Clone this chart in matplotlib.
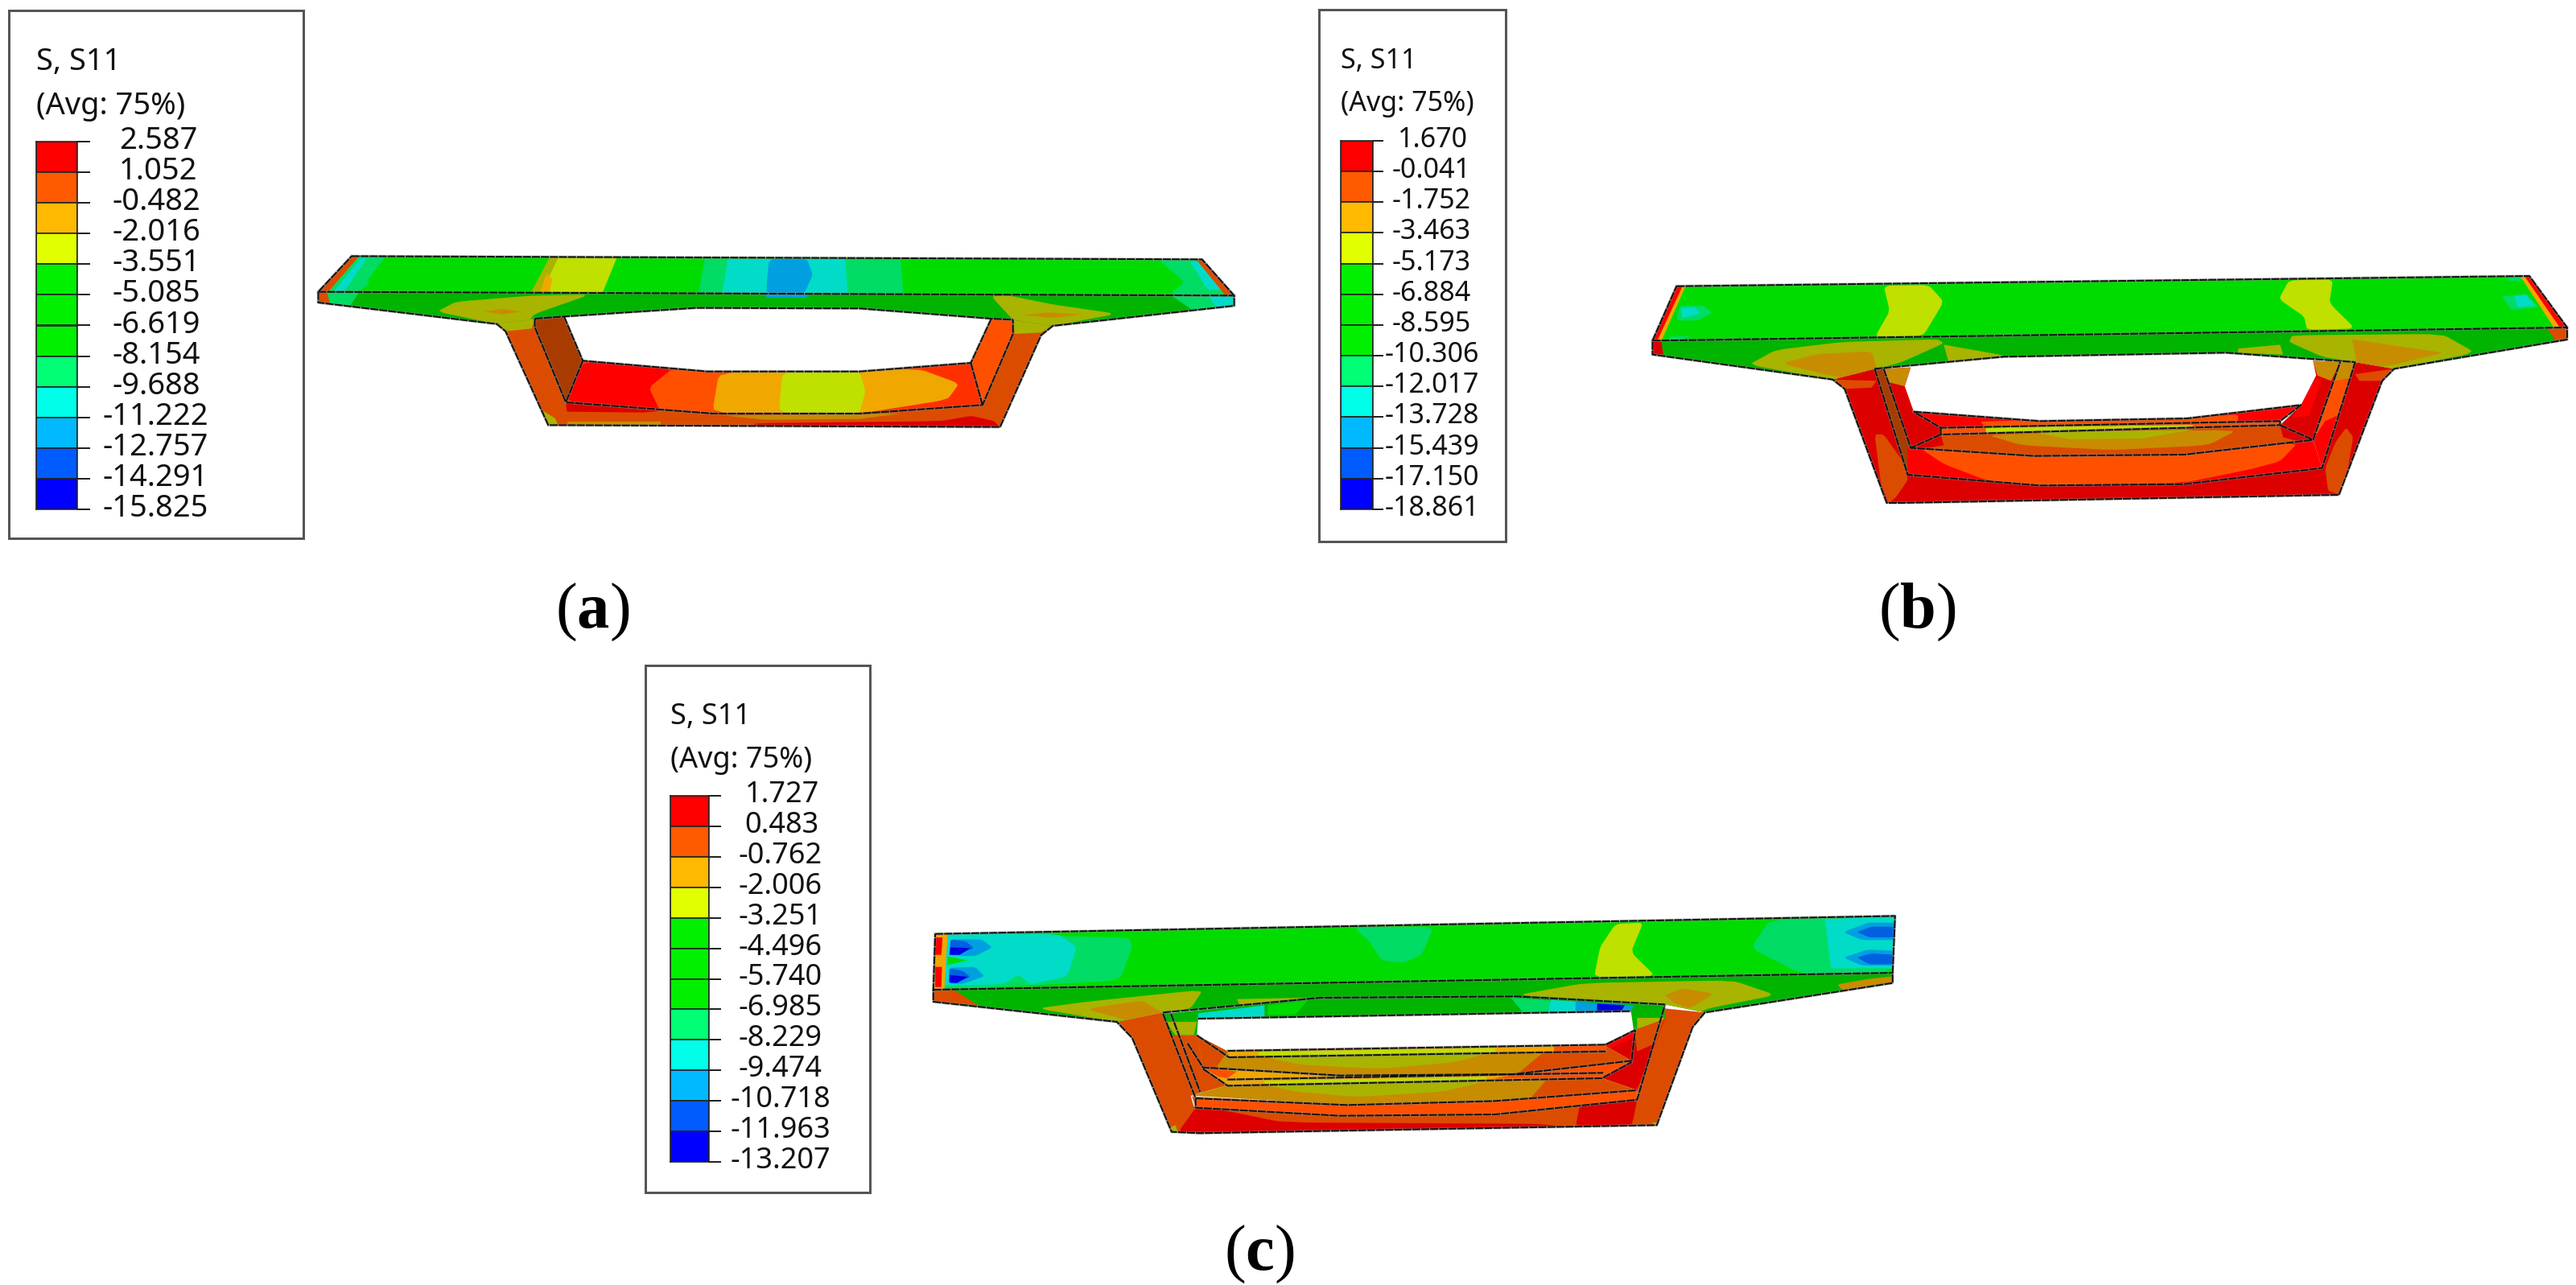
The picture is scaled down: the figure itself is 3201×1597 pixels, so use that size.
import numpy as np
import matplotlib
matplotlib.use("Agg")
import matplotlib.pyplot as plt
from matplotlib.patches import Polygon, Rectangle

W, H = 3201, 1597
PX = 0.72  # 1 pixel in points at dpi 100

plt.rcParams['mathtext.fontset'] = 'custom'
plt.rcParams['mathtext.bf'] = 'Liberation Serif:bold'
plt.rcParams['mathtext.rm'] = 'Liberation Serif'

# legend values
LEVELS_A = ["2.587", "1.052", "-0.482", "-2.016", "-3.551", "-5.085", "-6.619",
            "-8.154", "-9.688", "-11.222", "-12.757", "-14.291", "-15.825"]
LEVELS_B = ["1.670", "-0.041", "-1.752", "-3.463", "-5.173", "-6.884", "-8.595",
            "-10.306", "-12.017", "-13.728", "-15.439", "-17.150", "-18.861"]
LEVELS_C = ["1.727", "0.483", "-0.762", "-2.006", "-3.251", "-4.496", "-5.740",
            "-6.985", "-8.229", "-9.474", "-10.718", "-11.963", "-13.207"]
BAND_COLOURS = ["#FF0000", "#FF5A00", "#FFB900", "#E1FF00", "#00F000", "#00F000",
                "#00F000", "#00FF74", "#00FFE8", "#00B9FF", "#005CFF", "#0000FF"]

# contour colours as they look on the shaded model
G, GD = "#00DC00", "#00B400"
YG, OL, OD = "#C0E000", "#A8B400", "#C88C00"
AMB, OR, ORD = "#F0A800", "#FF5000", "#DC4C00"
RED, REDD, BRN = "#FF0000", "#DC0000", "#A83C00"
TEAL, CY, BL, BL2, BL3 = "#00DC64", "#00DCC8", "#00A0E0", "#0060E0", "#0000E0"

# section (a): each region is (base colour, outline, [(colour, contour patch), ...])
A_REGIONS = [
    (ORD, [(340, 338), (405, 318), (1222, 322), (1290, 345), (1270, 380), (1200, 722), (428, 715), (355, 365)], [
        (OL, [(340, 338), (405, 318), (400, 355), (355, 365)]),
        (OL, [(1222, 322), (1290, 345), (1270, 370), (1225, 375)]),
        (OL, [(418, 660), (440, 690), (445, 716), (428, 716)]),
        (REDD, [(458, 632), (620, 662), (590, 668), (460, 665)]),
        (REDD, [(780, 708), (1100, 700), (1150, 680), (1190, 700), (1200, 725), (780, 722)]),
        (OD, [(730, 680), (1030, 672), (960, 692), (800, 695)]),
        (OD, [(460, 702), (620, 702), (620, 716), (460, 716)]),
    ]),
    (GD, [(35, 218), (1600, 232), (1600, 270), (1290, 345), (1220, 322), (1185, 318), (960, 280),
          (680, 278), (455, 310), (405, 318), (340, 338), (35, 258)], [
        (OL, [(238, 292), (270, 255), (400, 232), (500, 228), (405, 300), (390, 340), (340, 338)]),
        (OD, [(318, 292), (350, 282), (382, 292), (350, 302)]),
        (OL, [(1185, 235), (1215, 232), (1290, 265), (1400, 300), (1290, 345), (1240, 370), (1222, 322)]),
        (OD, [(1240, 305), (1280, 295), (1340, 302), (1290, 315)]),
        (ORD, [(35, 218), (50, 218), (55, 262), (35, 258)]),
        (TEAL, [(50, 218), (105, 220), (90, 268), (55, 262)]),
        (TEAL, [(1490, 228), (1600, 232), (1600, 270), (1530, 288)]),
        (CY, [(1555, 232), (1600, 232), (1600, 270), (1570, 278)]),
        (BL, [(800, 228), (870, 228), (870, 240), (800, 240)]),
    ]),
    (G, [(92, 85), (1545, 97), (1600, 232), (35, 218)], [
        (TEAL, [(100, 85), (150, 88), (120, 170), (122, 190), (100, 220), (50, 218)]),
        (CY, [(108, 92), (118, 92), (80, 215), (62, 215)]),
        (ORD, [(92, 85), (105, 85), (52, 218), (35, 218)]),
        (OL, [(430, 90), (450, 92), (430, 222), (398, 222)]),
        (YG, [(445, 92), (545, 92), (520, 225), (415, 225)]),
        (AMB, [(425, 150), (435, 170), (430, 222), (414, 222)]),
        (TEAL, [(695, 95), (1030, 100), (1035, 226), (685, 226)]),
        (CY, [(735, 95), (935, 95), (940, 228), (725, 226)]),
        (BL, [(805, 95), (870, 95), (880, 155), (865, 226), (800, 226)]),
        (TEAL, [(1470, 97), (1535, 97), (1590, 230), (1490, 228), (1515, 180)]),
        (CY, [(1525, 105), (1540, 105), (1580, 210), (1555, 210)]),
        (ORD, [(1535, 97), (1548, 97), (1600, 232), (1585, 232)]),
    ]),
    (BRN, [(405, 318), (455, 310), (487, 475), (458, 630), (405, 350)], []),
    (OR, [(1185, 318), (1222, 322), (1222, 375), (1170, 640), (1150, 483)], []),
    ("#FF3000", [(487, 475), (700, 515), (960, 515), (1150, 483), (1170, 640), (960, 672), (710, 672), (458, 630)], [
        (RED, [(487, 475), (640, 505), (600, 575), (620, 660), (458, 632)]),
        (OR, [(640, 505), (1060, 500), (1130, 560), (1110, 620), (960, 672), (620, 665), (600, 575)]),
        (AMB, [(720, 515), (1060, 505), (1130, 560), (1110, 620), (960, 672), (708, 672)]),
        (YG, [(828, 515), (960, 515), (970, 590), (960, 672), (822, 672)]),
    ]),
]
A_LINES = [
    [(92, 85), (1545, 97), (1600, 232), (1600, 270), (1290, 345), (1270, 380), (1200, 722), (428, 715), (355, 365),
     (340, 338), (35, 258), (35, 218), (92, 85)],
    [(35, 218), (1600, 232)],
    [(405, 318), (455, 310), (680, 278), (960, 280), (1185, 318), (1222, 322)],
    [(455, 310), (487, 475), (700, 515), (960, 515), (1150, 483), (1185, 318)],
    [(405, 318), (405, 350), (458, 630), (710, 672), (960, 672), (1170, 640), (1222, 375), (1222, 322)],
    [(487, 475), (458, 630)],
    [(1150, 483), (1170, 640)],
]
A_HOLE = [(455, 310), (680, 278), (960, 280), (1185, 318), (1150, 483), (960, 515), (700, 515), (487, 475)]

# section (b)
B_REGIONS = [
    (REDD, [(385, 485), (455, 445), (510, 840), (730, 880), (970, 875), (1200, 815), (1255, 420), (1320, 445),
            (1300, 490), (1228, 915), (500, 945), (475, 945), (405, 520)], [
        (ORD, [(455, 690), (470, 690), (505, 800), (510, 860), (490, 925), (478, 945), (465, 870)]),
        (ORD, [(1240, 665), (1252, 700), (1240, 850), (1228, 912), (1210, 900), (1205, 815), (1222, 720)]),
        (ORD, [(385, 485), (458, 490), (450, 515), (405, 520)]),
        (ORD, [(1255, 465), (1320, 445), (1300, 490), (1262, 490)]),
    ]),
    (GD, [(85, 340), (1608, 291), (1608, 336), (1320, 445), (1255, 420), (1040, 385), (670, 400), (455, 445),
          (385, 485), (85, 392)], [
        (OL, [(245, 430), (290, 375), (400, 345), (560, 335), (570, 350), (500, 420), (460, 445), (430, 515), (405, 520), (385, 485)]),
        (OD, [(300, 425), (360, 390), (450, 380), (458, 440), (470, 480), (430, 490), (380, 470)]),
        (OL, [(1150, 320), (1400, 315), (1455, 385), (1320, 445), (1300, 480), (1255, 470), (1255, 420), (1200, 400), (1145, 345)]),
        (OD, [(1250, 335), (1400, 385), (1320, 430), (1260, 450)]),
        (OL, [(570, 355), (670, 395), (650, 405), (578, 420)]),
        (OL, [(1060, 370), (1130, 355), (1135, 392), (1060, 385)]),
        (REDD, [(85, 345), (100, 345), (103, 392), (85, 392)]),
        (ORD, [(1575, 295), (1608, 291), (1608, 336), (1590, 345)]),
    ]),
    (G, [(125, 137), (1545, 99), (1608, 291), (85, 340)], [
        (YG, [(470, 135), (545, 133), (570, 195), (535, 325), (455, 328), (480, 230)]),
        (YG, [(1145, 115), (1218, 112), (1212, 200), (1255, 295), (1175, 300), (1170, 250), (1128, 185)]),
        (TEAL, [(130, 210), (170, 210), (185, 235), (160, 265), (125, 265)]),
        (CY, [(132, 220), (155, 215), (165, 240), (135, 255)]),
        (TEAL, [(115, 325), (150, 322), (125, 345), (108, 345)]),
        (TEAL, [(1500, 175), (1540, 165), (1560, 215), (1515, 225)]),
        (CY, [(1520, 175), (1540, 170), (1555, 210), (1525, 215)]),
        (TEAL, [(1510, 105), (1535, 102), (1540, 115), (1510, 118)]),
        (AMB, [(120, 137), (140, 137), (100, 340), (82, 340)]),
        (RED, [(125, 137), (135, 137), (93, 340), (85, 340)]),
        (AMB, [(1530, 100), (1548, 99), (1610, 291), (1587, 295)]),
        (RED, [(1537, 100), (1550, 99), (1612, 291), (1597, 295)]),
    ]),
    (BRN, [(455, 445), (470, 445), (515, 740), (510, 840), (500, 790)], []),
    (REDD, [(470, 445), (515, 440), (505, 510), (520, 605), (565, 665), (565, 690), (515, 740)], [
        (OD, [(470, 445), (515, 440), (505, 510), (478, 495)]),
    ]),
    (REDD, [(1185, 415), (1230, 420), (1185, 710), (1130, 655), (1165, 580), (1190, 470)], [
        (OD, [(1185, 415), (1230, 420), (1215, 490), (1192, 470)]),
        (RED, [(1190, 480), (1200, 480), (1178, 620), (1150, 630)]),
    ]),
    (OR, [(1230, 420), (1255, 420), (1200, 815), (1185, 710)], [
        (OD, [(1230, 420), (1255, 420), (1245, 480), (1220, 490)]),
        (RED, [(1205, 640), (1225, 620), (1200, 815), (1185, 710)]),
    ]),
    (RED, [(520, 605), (730, 640), (975, 630), (1165, 580), (1130, 640), (565, 665)], [
        (OR, [(630, 640), (975, 630), (1060, 615), (1060, 650), (640, 665)]),
    ]),
    (OR, [(565, 665), (1130, 640), (1130, 655), (565, 690)], [
        (YG, [(640, 663), (985, 655), (985, 675), (640, 685)]),
    ]),
    (ORD, [(565, 690), (1130, 655), (1185, 710), (970, 765), (720, 770), (510, 740)], [
        (OD, [(640, 690), (1060, 672), (1010, 730), (850, 748), (700, 730)]),
        (OL, [(720, 682), (985, 672), (900, 705), (780, 708)]),
        (REDD, [(510, 740), (565, 690), (570, 730), (540, 742)]),
        (REDD, [(1185, 710), (1130, 655), (1135, 700), (1160, 715)]),
    ]),
    (RED, [(510, 740), (720, 770), (970, 765), (1185, 710), (1200, 815), (970, 875), (730, 880), (510, 840)], [
        (OR, [(530, 740), (720, 770), (970, 765), (1160, 720), (1130, 790), (1080, 820), (970, 870), (730, 880), (640, 860), (570, 800)]),
    ]),
]
B_LINES = [
    [(125, 137), (1545, 99), (1608, 291), (1608, 336), (1320, 445), (1300, 490), (1228, 915), (500, 945), (475, 945),
     (405, 520), (385, 485), (85, 392), (85, 340), (125, 137)],
    [(85, 340), (1608, 291)],
    [(455, 445), (670, 400), (1040, 385), (1255, 420)],
    [(455, 445), (510, 840), (730, 880), (970, 875), (1200, 815), (1255, 420)],
    [(470, 445), (515, 740), (720, 770), (970, 765), (1185, 710), (1230, 420)],
    [(520, 605), (730, 640), (975, 630), (1165, 580), (1130, 640), (565, 665), (520, 605)],
    [(565, 665), (565, 690), (1130, 655), (1130, 640)],
    [(565, 690), (515, 740)],
    [(1130, 655), (1185, 710)],
]
B_HOLE = [(515, 440), (670, 405), (1040, 390), (1185, 415), (1190, 470), (1165, 580), (975, 630), (730, 640), (520, 605), (505, 510)]

# section (c)
C_REGIONS = [
    (ORD, [(350, 540), (425, 505), (482, 520), (480, 590), (530, 650), (530, 775), (470, 815), (475, 855), (712, 890),
           (964, 885), (1195, 830), (1195, 795), (1240, 490), (1305, 505), (1285, 560), (1227, 925), (484, 955),
           (439, 950), (375, 600)], [
        (REDD, [(478, 860), (525, 870), (620, 915), (1030, 920), (1080, 930), (484, 955), (450, 950)]),
        (REDD, [(1102, 850), (1195, 830), (1190, 890), (1186, 925), (1095, 930)]),
        (OL, [(435, 935), (445, 925), (450, 955), (440, 955)]),
        (OL, [(1220, 915), (1232, 915), (1230, 925), (1222, 928)]),
    ]),
    (GD, [(52, 420), (1610, 357), (1610, 395), (1305, 505), (1240, 475), (1000, 445), (680, 450), (425, 505),
          (350, 540), (52, 465)], [
        (OL, [(220, 490), (300, 465), (490, 420), (470, 490), (425, 505), (350, 540)]),
        (OD, [(300, 492), (390, 460), (425, 505), (385, 548), (360, 530)]),
        (ORD, [(52, 420), (85, 420), (125, 478), (52, 465)]),
        (OL, [(1000, 440), (1110, 395), (1350, 385), (1420, 440), (1310, 490), (1280, 520), (1240, 475), (1115, 455)]),
        (OD, [(1240, 440), (1270, 415), (1320, 435), (1280, 490), (1255, 470)]),
        (OL, [(545, 455), (660, 450), (550, 480)]),
        (OD, [(1520, 400), (1570, 380), (1610, 370), (1610, 395), (1530, 425)]),
    ]),
    (G, [(55, 212), (1614, 145), (1610, 357), (52, 420)], [
        (TEAL, [(60, 212), (370, 225), (375, 260), (355, 385), (200, 405), (60, 418)]),
        (CY, [(60, 212), (255, 212), (285, 260), (270, 370), (210, 400), (190, 365), (165, 400), (60, 405)]),
        (BL, [(80, 232), (130, 232), (148, 262), (120, 295), (78, 292)]),
        (BL2, [(80, 232), (105, 240), (118, 265), (95, 285), (78, 290)]),
        (BL3, [(80, 262), (112, 265), (95, 290), (78, 290)]),
        (BL, [(78, 338), (120, 335), (135, 370), (100, 398), (78, 398)]),
        (BL2, [(78, 340), (100, 350), (112, 372), (90, 395), (78, 395)]),
        (BL3, [(78, 365), (108, 372), (90, 395), (78, 392)]),
        (G, [(75, 296), (108, 310), (75, 328)]),
        (AMB, [(52, 212), (75, 212), (70, 420), (50, 420)]),
        (RED, [(55, 225), (67, 225), (65, 290), (55, 290)]),
        (RED, [(55, 335), (66, 335), (65, 410), (55, 410)]),
        (TEAL, [(735, 188), (865, 185), (845, 290), (815, 320), (780, 310), (760, 240)]),
        (YG, [(1160, 175), (1205, 170), (1185, 280), (1225, 370), (1125, 375), (1135, 260)]),
        (TEAL, [(1410, 160), (1614, 145), (1610, 357), (1460, 360), (1380, 265)]),
        (CY, [(1500, 158), (1614, 145), (1610, 340), (1510, 340)]),
        (BL, [(1530, 205), (1570, 170), (1614, 170), (1614, 235), (1560, 235)]),
        (BL2, [(1552, 205), (1575, 185), (1614, 185), (1614, 225), (1572, 225)]),
        (BL, [(1530, 300), (1570, 270), (1614, 275), (1614, 330), (1560, 330)]),
        (BL2, [(1552, 300), (1575, 285), (1614, 290), (1614, 325), (1572, 325)]),
    ]),
    (GD, [(425, 510), (680, 450), (1000, 445), (1240, 478), (1240, 530), (1190, 580), (1185, 500), (482, 528), (480, 590), (440, 590)], [
        (TEAL, [(990, 450), (1055, 460), (1050, 505), (1010, 505)]),
        (CY, [(1055, 458), (1100, 465), (1095, 502), (1050, 505)]),
        (BL, [(1095, 465), (1190, 478), (1185, 500), (1095, 502)]),
        (BL3, [(1130, 472), (1175, 478), (1170, 498), (1130, 498)]),
        (CY, [(482, 508), (590, 478), (590, 520), (482, 528)]),
        (G, [(595, 478), (660, 460), (640, 512), (595, 515)]),
        (OL, [(430, 540), (480, 540), (475, 590), (445, 590)]),
        (OL, [(1195, 525), (1240, 525), (1220, 575), (1195, 575)]),
    ]),
    (ORD, [(480, 590), (530, 650), (530, 775), (470, 815), (465, 620)], []),
    (REDD, [(1140, 625), (1192, 570), (1240, 530), (1195, 795), (1138, 750), (1186, 685)], [
        (RED, [(1140, 625), (1192, 570), (1188, 600), (1145, 645)]),
        (ORD, [(1190, 560), (1240, 525), (1225, 620), (1195, 650)]),
    ]),
    (OD, [(530, 650), (1140, 625), (1186, 685), (994, 735), (712, 740), (490, 710), (480, 590)], [
        (OL, [(590, 672), (960, 650), (900, 690), (780, 715), (650, 700)]),
        (ORD, [(1055, 630), (1140, 625), (1190, 685), (1000, 735)]),
        (ORD, [(480, 590), (530, 650), (510, 715), (490, 710)]),
    ]),
    (AMB, [(530, 648), (1144, 625), (1144, 650), (532, 672)], [
        (YG, [(580, 652), (965, 638), (965, 660), (580, 668)]),
        (OR, [(1060, 628), (1144, 625), (1144, 650), (1060, 650)]),
    ]),
    (AMB, [(490, 710), (712, 740), (994, 735), (1186, 685), (1140, 750), (530, 778)], [
        (OR, [(1000, 735), (1186, 685), (1140, 750), (960, 752)]),
        (YG, [(590, 760), (950, 745), (950, 758), (590, 770)]),
        (OR, [(490, 710), (545, 725), (530, 750), (515, 745)]),
    ]),
    (OD, [(526, 778), (1138, 750), (1195, 795), (964, 835), (724, 850), (472, 815)], [
        (OL, [(590, 775), (950, 762), (880, 800), (740, 820), (640, 800)]),
        (ORD, [(1050, 750), (1138, 750), (1195, 795), (1020, 830)]),
    ]),
    (OR, [(472, 818), (724, 850), (964, 835), (1195, 795), (1195, 830), (964, 885), (712, 890), (478, 860)], []),
]
C_LINES = [
    [(55, 212), (1614, 145), (1610, 357), (1610, 395), (1305, 505), (1285, 560), (1227, 925), (484, 955), (439, 950),
     (375, 600), (350, 540), (52, 465), (52, 420), (55, 212)],
    [(52, 420), (1610, 357)],
    [(425, 505), (680, 450), (1000, 445), (1240, 475)],
    [(482, 528), (1185, 500)],
    [(425, 510), (478, 825), (478, 860), (712, 890), (964, 885), (1195, 830), (1240, 478)],
    [(478, 825), (724, 850), (964, 835), (1195, 795)],
    [(438, 510), (485, 800)],
    [(465, 620), (490, 710), (712, 740), (994, 735), (1186, 685), (1192, 570)],
    [(490, 715), (530, 778), (1138, 750), (1186, 690)],
    [(530, 648), (1144, 625), (1192, 570)],
    [(532, 672), (1144, 650)],
    [(480, 590), (532, 672)],
    [(530, 755), (1140, 730)],
]
C_HOLE = [(482, 528), (1185, 500), (1192, 570), (1144, 625), (530, 648), (480, 590)]

# zoom frames: (x origin, y origin, x scale, y scale)
FRAME_A = (370, 290, 1.375, 3)
FRAME_B = (1990, 310, 1.34, 3)
FRAME_C = (1120, 1090, 1.307, 3)


def to_px(pts, frame):
    pts = np.array(pts, dtype=float)
    return np.column_stack([frame[0] + pts[:, 0] / frame[2], frame[1] + pts[:, 1] / frame[3]])


def rounded(xy, rounds=2, cut=0.1):
    # small corner cut only, a bigger one pulls the bands off the section edges
    if len(xy) < 5:
        return xy
    for _ in range(rounds):
        nxt = np.roll(xy, -1, axis=0)
        xy = np.column_stack([(1 - cut) * xy + cut * nxt, cut * xy + (1 - cut) * nxt]).reshape(-1, 2)
    return xy


def draw_section(ax, regions, hole, lines, frame):
    # underside + web + face go first, then the hole, then what is seen through it
    for i, (base, outline, layers) in enumerate(regions):
        if i == 3:
            ax.add_patch(Polygon(to_px(hole, frame), facecolor="white", edgecolor="none", zorder=2 + i))
        patch = Polygon(to_px(outline, frame), facecolor=base, edgecolor="none", zorder=2 + i)
        ax.add_patch(patch)
        for colour, pts in layers:
            p = Polygon(rounded(to_px(pts, frame)), facecolor=colour, edgecolor="none", zorder=2 + i)
            ax.add_patch(p)
            p.set_clip_path(patch)
    for line in lines:
        xy = to_px(line, frame)
        ax.plot(xy[:, 0], xy[:, 1], color="#8a8a8a", lw=3.5 * PX, alpha=0.5, zorder=30, solid_joinstyle="round")
        ax.plot(xy[:, 0], xy[:, 1], color="#111111", lw=2.0 * PX, zorder=31, ls=(0, (5, 0.6)))


def draw_legend(fig, ax, levels, box, bar, tick_len, title_x, title_ys, right_x, size):
    x0, y0, x1, y1 = box
    ax.add_patch(Rectangle((x0, y0), x1 - x0, y1 - y0, facecolor="white", edgecolor="#555555", lw=3 * PX, zorder=1))
    ax.text(title_x, title_ys[0], "S, S11", fontsize=size, family="Noto Sans", color="#111111", va="center", zorder=40)
    ax.text(title_x, title_ys[1], "(Avg: 75%)", fontsize=size, family="Noto Sans", color="#111111", va="center", zorder=40)

    bx0, by0, bx1, by1 = bar
    cax = fig.add_axes([bx0 / W, 1 - by1 / H, (bx1 - bx0) / W, (by1 - by0) / H])
    n = len(levels) - 1
    cax.barh(np.arange(n) + 0.5, np.ones(n), height=1, color=BAND_COLOURS, edgecolor="#222222", linewidth=1.6 * PX)
    cax.set_xlim(0, 1)
    cax.set_ylim(n, 0)
    cax.set_xticks([])
    cax.set_yticks(np.arange(n + 1))
    cax.set_yticklabels([])
    cax.yaxis.tick_right()
    cax.tick_params(axis="y", length=tick_len * PX, width=2 * PX, color="#222222")
    for s in cax.spines.values():
        s.set_linewidth(1.6 * PX)
        s.set_color("#222222")
    # Abaqus pads the labels, so the right edges are not quite flush
    shift = {7: 10, 6: 0, 5: -4}
    for i, lab in enumerate(levels):
        cax.annotate(lab, xy=(0, i), xycoords=("axes fraction", "data"),
                     xytext=((right_x + shift[len(lab)] - bx0) * PX, 1 * PX), textcoords="offset points",
                     ha="right", va="center", fontsize=size, family="Noto Sans", color="#111111",
                     annotation_clip=False)


fig = plt.figure(figsize=(W / 100, H / 100), dpi=100)
ax = fig.add_axes([0, 0, 1, 1])
ax.set_xlim(0, W)
ax.set_ylim(H, 0)
ax.axis("off")

draw_section(ax, A_REGIONS, A_HOLE, A_LINES, FRAME_A)
draw_section(ax, B_REGIONS, B_HOLE, B_LINES, FRAME_B)
draw_section(ax, C_REGIONS, C_HOLE, C_LINES, FRAME_C)

draw_legend(fig, ax, LEVELS_A, (11, 13, 377, 669), (45, 176, 96, 633), 16, 45, (77, 132), 249, 27.4)
draw_legend(fig, ax, LEVELS_B, (1639, 12, 1871, 673), (1666, 175, 1706, 633), 13, 1666, (76, 129), 1828, 24.5)
draw_legend(fig, ax, LEVELS_C, (802, 827, 1081, 1482), (833, 989, 881, 1444), 15, 833, (891, 945), 1022, 26)

ax.text(736, 780, r"($\mathbf{a}$)", fontsize=58, family="Liberation Serif", ha="center", va="baseline")
ax.text(2382, 780, r"($\mathbf{b}$)", fontsize=58, family="Liberation Serif", ha="center", va="baseline")
ax.text(1565, 1578, r"($\mathbf{c}$)", fontsize=58, family="Liberation Serif", ha="center", va="baseline")

fig.savefig("out.png", dpi=100, facecolor="white")
